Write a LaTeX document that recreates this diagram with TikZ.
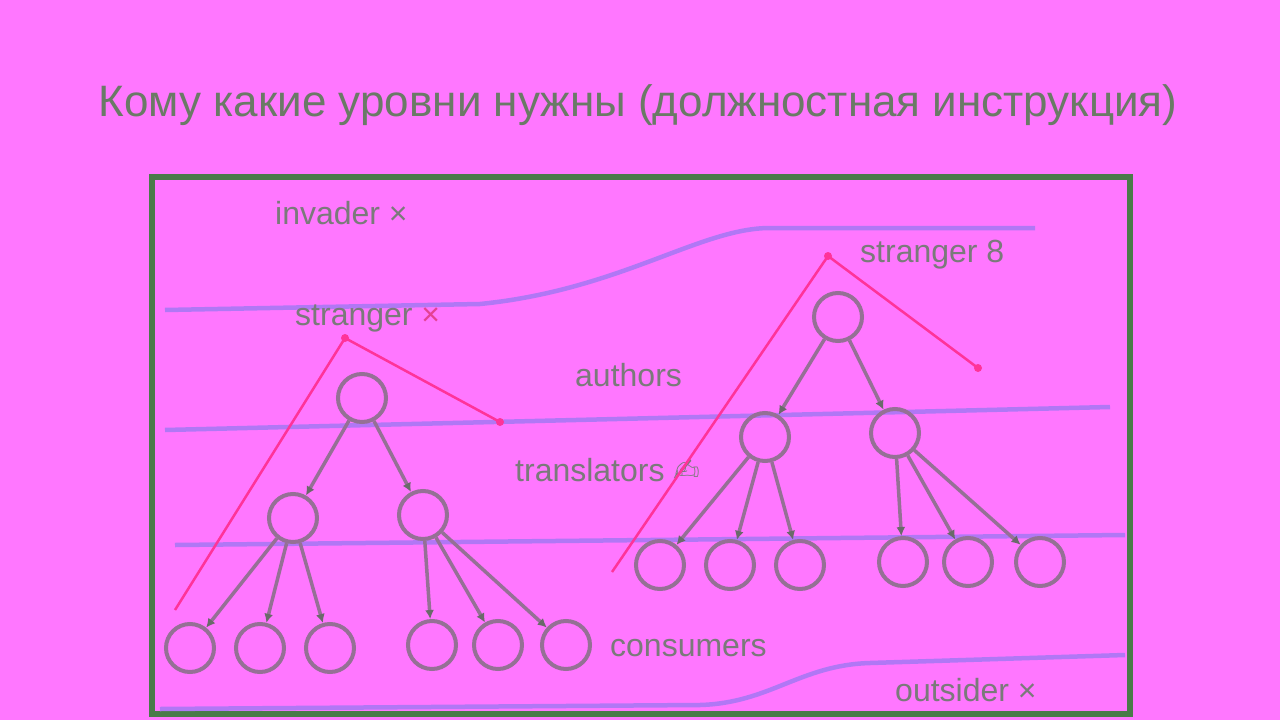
\documentclass[tikz,border=0pt]{standalone}
\usepackage{fontspec}
\setmainfont{Liberation Sans}
\newfontfamily\symfont{DejaVu Sans}
\usetikzlibrary{arrows.meta}
\definecolor{bg}{HTML}{FF77FF}
\definecolor{frame}{HTML}{4A7A4A}
\definecolor{ttl}{HTML}{6A7A66}
\definecolor{lvl}{HTML}{A978F5}
\definecolor{redl}{HTML}{FF3399}
\definecolor{tree}{HTML}{957095}
\definecolor{tip}{HTML}{6A6A6A}
\definecolor{lbl}{HTML}{7A7A7A}
\begin{document}
\begin{tikzpicture}[x=1pt,y=-1pt,
  nd/.style={circle,draw=tree,line width=4pt,minimum size=48pt,inner sep=0pt},
  edge/.style={draw=tree,line width=3.5pt,-{Latex[length=9pt,width=9pt,color=tip]}},
  level/.style={draw=lvl,line width=4.5pt,opacity=0.9},
  redline/.style={draw=redl,line width=2.5pt},
  dotend/.style={circle,fill=redl,inner sep=0pt,minimum size=8pt},
  lab/.style={text=lbl,font=\fontsize{32}{34}\selectfont,anchor=west,inner sep=0pt}]
\fill[bg] (0,0) rectangle (1280,720);
\useasboundingbox (0,0) rectangle (1280,720);
% title
\node[text=ttl,font=\fontsize{44}{48}\selectfont] (title) at (638,105) {Кому какие уровни нужны (должностная инструкция)};
% frame
\draw[frame,line width=6pt] (152,177) rectangle (1130,714);
% level lines
\draw[level] (165,310) -- (480,304) .. controls (620,290) and (700,228) .. (770,228) -- (1035,228);
\draw[level] (165,430) -- (1110,407);
\draw[level] (175,545) -- (1125,535);
\draw[level] (160,709) -- (700,705) .. controls (770,703) and (800,665) .. (870,663) -- (1125,655);
% labels
\node[lab] (inv) at (275,213) {invader ×};
\node[lab] (str1) at (295,318) {stranger {\color{redl!80!lbl}×}};
\node[lab] (str2) at (860,255) {stranger 8};
\node[lab] (auth) at (575,375) {authors};
\node[lab] (trans) at (515,470) {translators {\symfont ✍}};
\node[lab] (cons) at (610,648) {consumers};
\node[lab] (outs) at (895,690) {outsider ×};
% left tree
\node[nd] (r1) at (362,398) {};
\node[nd] (a1) at (293,518) {};
\node[nd] (b1) at (423,515) {};
\node[nd] (l1) at (190,648) {};
\node[nd] (l2) at (260,648) {};
\node[nd] (l3) at (330,648) {};
\node[nd] (l4) at (432,645) {};
\node[nd] (l5) at (498,645) {};
\node[nd] (l6) at (566,645) {};
\draw[edge] (r1) -- (a1);
\draw[edge] (r1) -- (b1);
\draw[edge] (a1) -- (l1);
\draw[edge] (a1) -- (l2);
\draw[edge] (a1) -- (l3);
\draw[edge] (b1) -- (l4);
\draw[edge] (b1) -- (l5);
\draw[edge] (b1) -- (l6);
% right tree
\node[nd] (r2) at (838,317) {};
\node[nd] (a2) at (765,437) {};
\node[nd] (b2) at (895,433) {};
\node[nd] (m1) at (660,565) {};
\node[nd] (m2) at (730,565) {};
\node[nd] (m3) at (800,565) {};
\node[nd] (m4) at (903,562) {};
\node[nd] (m5) at (968,562) {};
\node[nd] (m6) at (1040,562) {};
\draw[edge] (r2) -- (a2);
\draw[edge] (r2) -- (b2);
\draw[edge] (a2) -- (m1);
\draw[edge] (a2) -- (m2);
\draw[edge] (a2) -- (m3);
\draw[edge] (b2) -- (m4);
\draw[edge] (b2) -- (m5);
\draw[edge] (b2) -- (m6);
% red lines
\coordinate (p1) at (175,610);
\node[dotend] (p2) at (345,338) {};
\node[dotend] (p3) at (500,422) {};
\coordinate (q1) at (612,572);
\node[dotend] (q2) at (828,256) {};
\node[dotend] (q3) at (978,368) {};
\draw[redline] (p1) -- (p2.center) -- (p3.center);
\draw[redline] (q1) -- (q2.center) -- (q3.center);
\end{tikzpicture}
\end{document}
